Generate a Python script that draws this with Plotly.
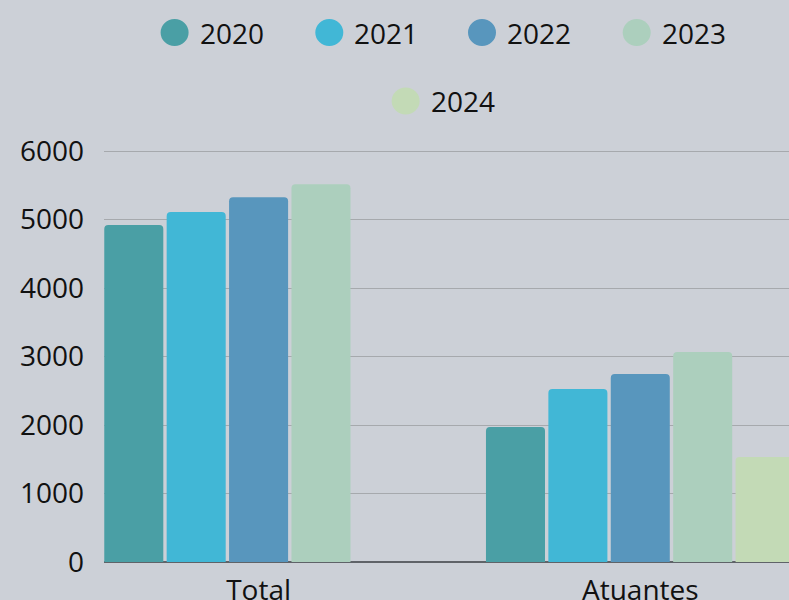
import plotly.graph_objects as go

categories = ["Total", "Atuantes"]
years = ["2020", "2021", "2022", "2023", "2024"]
values_2020 = [4920, 1970]
values_2021 = [5110, 2525]
values_2022 = [5325, 2745]
values_2023 = [5515, 3065]
values_2024 = [None, 1535]
series = [values_2020, values_2021, values_2022, values_2023, values_2024]
colors = ["#4a9fa5", "#41b7d6", "#5896bd", "#accfbd", "#c3dab6"]
y_ticks = [0, 1000, 2000, 3000, 4000, 5000, 6000]

FONT = "Open Sans"
FS = 28
W, H = 789, 600
ML, MR, MT, MB = 104, 0, 147, 38
PW = W - ML - MR
PH = H - MT - MB

fig = go.Figure()
for name, vals, col in zip(years, series, colors):
    fig.add_trace(go.Bar(x=categories, y=vals, name=name, marker=dict(color=col, line=dict(width=0)),
                         showlegend=False))

# manual legend with large circle markers
def px2paper_x(px):
    return (px - ML) / PW

def px2paper_y(py):
    return (H - MB - py) / PH

def text_w(s):
    return 60 if s.endswith("1") else 62

rows = [years[:4], years[4:]]
row_y = [32.5, 101]
center_x = 443
circle_d = 28
text_gap = 12.7
item_gap = 52
shapes = []
annotations = []
for r, row in enumerate(rows):
    widths = [circle_d + text_gap + text_w(s) for s in row]
    total_w = sum(widths) + item_gap * (len(row) - 1)
    left = center_x - total_w / 2
    for i, name in enumerate(row):
        cx = left + circle_d / 2
        col = colors[years.index(name)]
        shapes.append(dict(type="circle", xref="paper", yref="paper",
                           xsizemode="pixel", ysizemode="pixel",
                           xanchor=px2paper_x(cx), yanchor=px2paper_y(row_y[r]),
                           x0=-14, x1=14, y0=-13.5, y1=13.5,
                           fillcolor=col, line=dict(width=0)))
        annotations.append(dict(x=px2paper_x(cx + 23), y=px2paper_y(row_y[r]), xref="paper", yref="paper",
                                xanchor="left", yanchor="middle", text=name, showarrow=False,
                                font=dict(family=FONT, size=FS, color="#111111")))
        left += widths[i] + item_gap

fig.update_layout(
    width=W, height=H,
    margin=dict(l=ML, r=MR, t=MT, b=MB, autoexpand=False),
    paper_bgcolor="#ccd0d7", plot_bgcolor="#ccd0d7",
    barmode="group", bargap=0.1826, bargroupgap=0.054, barcornerradius=4,
    font=dict(family=FONT, size=FS, color="#111111"),
    shapes=shapes, annotations=annotations,
    showlegend=False,
)
fig.update_xaxes(type="category", range=[-0.405, 1.3896], showgrid=False, showline=False, automargin=False,
                 ticks="", ticklabelstandoff=9, tickfont=dict(family=FONT, size=FS, color="#111111"))
fig.update_yaxes(range=[0, 6060], tickvals=y_ticks, showgrid=True, gridcolor="#a6a9ad", gridwidth=1,
                 zeroline=True, zerolinecolor="#5f6368", zerolinewidth=1.5, showline=False, automargin=False,
                 ticks="", ticklabelstandoff=19, tickfont=dict(family=FONT, size=FS, color="#111111"))

fig.write_html("out.html", config={"displayModeBar": False},
               post_script="document.body.style.margin='0';document.body.style.background='#ccd0d7';")
